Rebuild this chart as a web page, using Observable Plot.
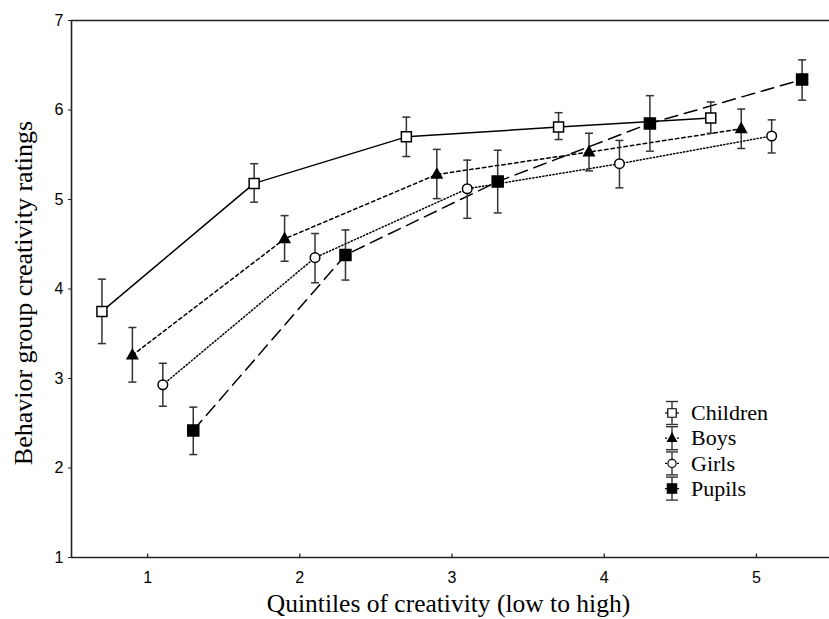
<!DOCTYPE html>
<html><head><meta charset="utf-8">
<script src="https://cdn.jsdelivr.net/npm/d3@7"></script>
<script src="https://cdn.jsdelivr.net/npm/@observablehq/plot@0.6"></script>
<style>
html,body{margin:0;padding:0;background:#fff;overflow:hidden}
#wrap{position:relative;width:829px;height:619px}
#legend{position:absolute;left:0;top:0;pointer-events:none}
</style></head><body><div id="wrap"></div>
<script>
// ---- data ----
const quintiles = [1, 2, 3, 4, 5];
const groups = ["Children", "Boys", "Girls", "Pupils"];
const groupOffsets = [-0.3, -0.1, 0.1, 0.3];

const childrenMean = [3.75, 5.18, 5.70, 5.81, 5.91];
const childrenLo   = [3.39, 4.97, 5.48, 5.67, 5.74];
const childrenHi   = [4.11, 5.40, 5.92, 5.97, 6.09];

const boysMean = [3.26, 4.56, 5.28, 5.53, 5.79];
const boysLo   = [2.96, 4.31, 5.01, 5.32, 5.57];
const boysHi   = [3.57, 4.82, 5.56, 5.74, 6.01];

const girlsMean = [2.93, 4.35, 5.12, 5.40, 5.71];
const girlsLo   = [2.69, 4.07, 4.79, 5.13, 5.52];
const girlsHi   = [3.17, 4.62, 5.44, 5.66, 5.89];

const pupilsMean = [2.42, 4.38, 5.20, 5.85, 6.34];
const pupilsLo   = [2.15, 4.10, 4.85, 5.54, 6.11];
const pupilsHi   = [2.68, 4.66, 5.55, 6.16, 6.56];

const xTicks = [1, 2, 3, 4, 5];
const yTicks = [1, 2, 3, 4, 5, 6, 7];
const xLabel = "Quintiles of creativity (low to high)";
const yLabel = "Behavior group creativity ratings";

// ---- build table ----
const seriesData = {
  Children: [childrenMean, childrenLo, childrenHi],
  Boys: [boysMean, boysLo, boysHi],
  Girls: [girlsMean, girlsLo, girlsHi],
  Pupils: [pupilsMean, pupilsLo, pupilsHi]
};
const rows = groups.flatMap((g, gi) => quintiles.map((q, i) => ({
  group: g, x: q + groupOffsets[gi],
  y: seriesData[g][0][i], lo: seriesData[g][1][i], hi: seriesData[g][2][i]
})));

// ---- symbols ----
const sq = s => ({draw(c){c.moveTo(-s,-s);c.lineTo(s,-s);c.lineTo(s,s);c.lineTo(-s,s);c.closePath();}});
const tri = s => ({draw(c){c.moveTo(0,-s*1.1);c.lineTo(s,s*0.7);c.lineTo(-s,s*0.7);c.closePath();}});
const circ = s => ({draw(c){c.moveTo(s,0);c.arc(0,0,s,0,2*Math.PI);}});
const hcap = s => ({draw(c){c.moveTo(-s,0);c.lineTo(s,0);}});
const vtick = {draw(c){c.moveTo(0,0);c.lineTo(0,-4);}};

const style = {
  Children: {dash: null, sym: sq(5), fill: "white"},
  Boys: {dash: "3.5,3", sym: tri(5.2), fill: "black"},
  Girls: {dash: "1.2,2.2", sym: circ(4.8), fill: "white"},
  Pupils: {dash: "13,7", sym: sq(5.5), fill: "black"}
};

const ink = "#222";
const marks = [];
// frame lines
marks.push(Plot.ruleY([7], {stroke: ink, strokeWidth: 1.6}));
marks.push(Plot.ruleY([1], {stroke: ink, strokeWidth: 1.6}));
marks.push(Plot.ruleX([0.5], {stroke: ink, strokeWidth: 1.6}));
// axes
marks.push(Plot.axisY({ticks: yTicks, tickFormat: d => String(d), tickSize: 3, tickPadding: 5, label: null, fontSize: 16, stroke: ink}));
marks.push(Plot.axisX({ticks: xTicks, tickFormat: d => String(d), tickSize: 0, tickPadding: 14, label: null, fontSize: 16}));
marks.push(Plot.dot(xTicks, {x: d => d, y: () => 1, symbol: vtick, stroke: ink, strokeWidth: 1.3, fill: "none"}));
// lines
for (const g of groups) {
  marks.push(Plot.line(rows.filter(d => d.group === g), {x: "x", y: "y", stroke: "black", strokeWidth: 1.5,
    strokeDasharray: style[g].dash || undefined}));
}
// error bars
marks.push(Plot.ruleX(rows, {x: "x", y1: "lo", y2: "hi", stroke: "#333", strokeWidth: 1.5}));
marks.push(Plot.dot(rows, {x: "x", y: "hi", symbol: hcap(4), stroke: "#333", strokeWidth: 1.5, fill: "none"}));
marks.push(Plot.dot(rows, {x: "x", y: "lo", symbol: hcap(4), stroke: "#333", strokeWidth: 1.5, fill: "none"}));
// markers
for (const g of groups) {
  marks.push(Plot.dot(rows.filter(d => d.group === g), {x: "x", y: "y", symbol: style[g].sym,
    fill: style[g].fill, stroke: "black", strokeWidth: 1.5}));
}
// axis titles
marks.push(Plot.text([xLabel], {text: d => d, frameAnchor: "bottom", textAnchor: "middle", lineAnchor: "bottom", dy: 54, dx: -2,
  fontFamily: "Liberation Serif", fontSize: 25.5, fill: "black"}));
marks.push(Plot.text([yLabel], {text: d => d, frameAnchor: "left", textAnchor: "middle", lineAnchor: "bottom", rotate: -90, dx: -40, dy: 4,
  fontFamily: "Liberation Serif", fontSize: 26, fill: "black"}));

const chart = Plot.plot({
  width: 829, height: 619,
  marginLeft: 71, marginRight: 0, marginTop: 20, marginBottom: 62,
  x: {domain: [0.5, 5.48]},
  y: {domain: [1, 7]},
  style: {fontFamily: "Liberation Sans", fontSize: "16px", color: "black", background: "white"},
  marks
});
const wrap = document.getElementById("wrap");
wrap.appendChild(chart);

// ---- legend overlay ----
const lg = d3.select(wrap).append("svg").attr("id", "legend").attr("width", 829).attr("height", 619);
const lx = 672, ly0 = 413, lstep = 25.2;
groups.forEach((g, i) => {
  const cy = ly0 + i * lstep;
  const row = lg.append("g").attr("transform", `translate(${lx},${cy})`);
  row.append("line").attr("x1", 0).attr("x2", 0).attr("y1", -11.5).attr("y2", 11.5).attr("stroke", "#333").attr("stroke-width", 1.4);
  row.append("line").attr("x1", -6).attr("x2", 6).attr("y1", -11.5).attr("y2", -11.5).attr("stroke", "#333").attr("stroke-width", 1.4);
  row.append("line").attr("x1", -6).attr("x2", 6).attr("y1", 11.5).attr("y2", 11.5).attr("stroke", "#333").attr("stroke-width", 1.4);
  row.append("line").attr("x1", -7).attr("x2", 7).attr("y1", 0).attr("y2", 0).attr("stroke", "black").attr("stroke-width", 1.2)
    .attr("stroke-dasharray", style[g].dash ? "2,2" : null);
  row.append("path").attr("d", d3.symbol(style[g].sym)()).attr("fill", style[g].fill).attr("stroke", "black").attr("stroke-width", 1.4)
    .attr("transform", "scale(0.85)");
  lg.append("text").attr("x", 691).attr("y", cy).attr("dy", "0.33em").attr("font-family", "Liberation Serif")
    .attr("font-size", 22).attr("fill", "black").text(g);
});
</script></body></html>
